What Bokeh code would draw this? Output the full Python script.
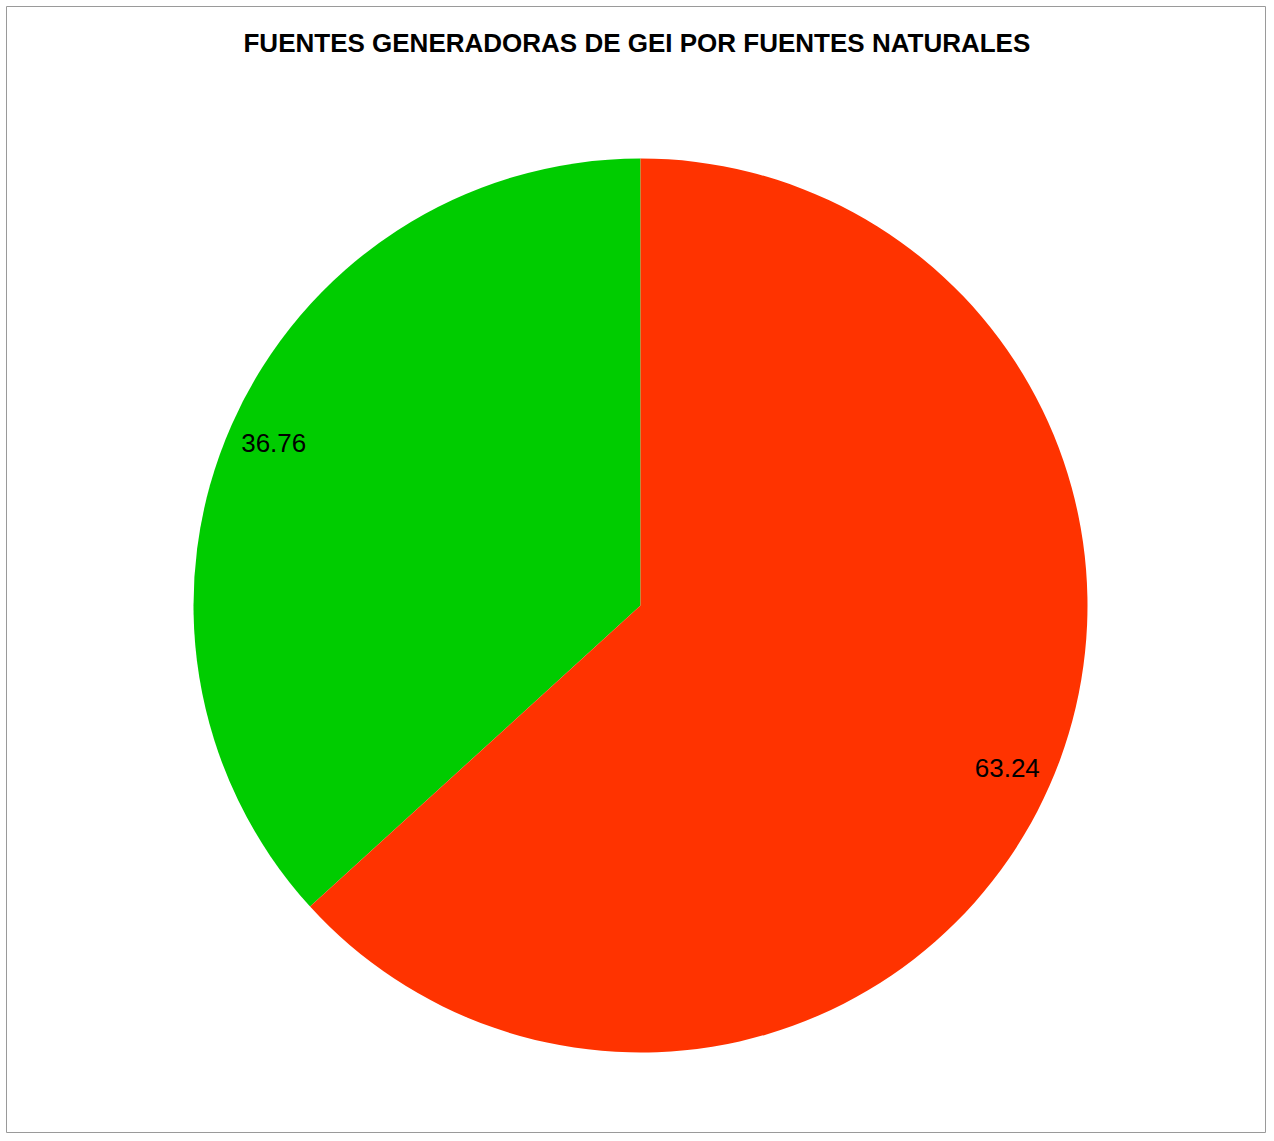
import math
from bokeh.plotting import figure
from bokeh.models import Range1d, Label, ColumnDataSource
from bokeh.core.properties import value
from bokeh.embed import file_html
from bokeh.resources import INLINE

# data
categories = ["Fuente A", "Fuente B"]
values = [36.76, 63.24]
labels = ["36.76", "63.24"]
colors = ["#00CC00", "#FF3300"]
title_text = "FUENTES GENERADORAS DE GEI  POR FUENTES NATURALES"

W, H = 1266, 1133
R = 447
p = figure(width=W, height=H, output_backend="svg", toolbar_location=None,
           x_range=Range1d(-634, 626), y_range=Range1d(-528, 599),
           min_border_left=6, min_border_top=6, min_border_right=0,
           min_border_bottom=0)
p.axis.visible = False
p.grid.visible = False
p.outline_line_color = "#9a9a9a"
p.outline_line_width = 1
p.background_fill_color = "white"
p.border_fill_color = "white"

total = sum(values)
starts, ends, lx, ly = [], [], [], []
a = math.pi / 2
for v in values:
    span = 2 * math.pi * v / total
    starts.append(a)
    ends.append(a + span)
    mid = a + span / 2
    lx.append(0.897 * R * math.cos(mid))
    ly.append(0.897 * R * math.sin(mid))
    a += span

src = ColumnDataSource(dict(cat=categories, start=starts, end=ends, color=colors,
                            lx=lx, ly=ly, label=labels))
p.wedge(x=0, y=0, radius=R, start_angle="start", end_angle="end",
        fill_color="color", line_color=None, source=src)
p.text(x="lx", y="ly", text="label", source=src, text_align="center",
       text_baseline="middle", text_font=value("Liberation Sans"),
       text_font_size="26px", text_color="black")

p.add_layout(Label(x=0, y=563, text=title_text, text_align="center",
                   text_baseline="middle", text_font="Liberation Sans",
                   text_font_size="26px", text_font_style="bold",
                   text_color="black"))

open("out.html", "w").write(file_html(p, INLINE))
